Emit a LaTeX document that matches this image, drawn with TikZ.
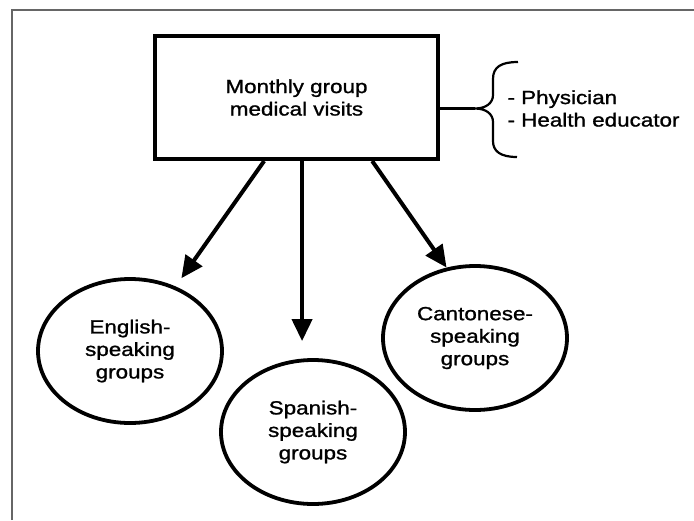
\documentclass[tikz,border=0pt]{standalone}
\usepackage{fontspec}
\setmainfont{Liberation Sans}[FakeStretch=1.18,FakeBold=1.2]
\usetikzlibrary{positioning,arrows.meta,shapes.geometric}
\begin{document}
\begin{tikzpicture}[x=1pt,y=-1pt,
  font=\fontsize{19pt}{22.5pt}\selectfont,
  visit/.style={draw,line width=4pt,minimum width=283pt,minimum height=123pt,inner sep=0pt,align=center},
  lang/.style={ellipse,draw,line width=3.8pt,minimum width=184pt,minimum height=144pt,inner sep=0pt,align=center},
  arr/.style={line width=4pt,-{Triangle[length=22pt,width=20pt]}},
  brace/.style={line width=2.2pt}]
\useasboundingbox (0,0) rectangle (694,520);
% outer frame (cut off on the right and at the bottom)
\draw[black!60,line width=1.4pt] (12,520)--(12,10)--(694,10);
% ===== visit box and staff brace =====
\node[visit] (visits) at (296.5,97.5) {Monthly group\\medical visits};
\coordinate (tip) at (475,108.5);
\draw[brace] (visits.east |- tip) -- (tip);
\draw[brace] (518,62) .. controls (501,62) and (493,67) .. (493,79) -- (493,95)
  .. controls (493,103) and (486,108.5) .. (tip)
  .. controls (486,108.5) and (493,114) .. (493,122) -- (493,141)
  .. controls (493,151) and (500,157) .. (517,157);
\node[anchor=west,align=left] (staff) at (504,108.5) {- Physician\\- Health educator};
% ===== language groups =====
\node[lang] (english) at (130,351) {English-\\speaking\\groups};
\node[lang] (spanish) at (313,432) {Spanish-\\speaking\\groups};
\node[lang] (cantonese) at (475,338) {Cantonese-\\speaking\\groups};
\draw[arr,shorten >=10pt] (visits.243) -- (english);
\draw[arr,shorten >=17pt] (visits.275) -- (visits.275 |- spanish.north);
\draw[arr] (visits.320) -- (cantonese.112);
\end{tikzpicture}
\end{document}
